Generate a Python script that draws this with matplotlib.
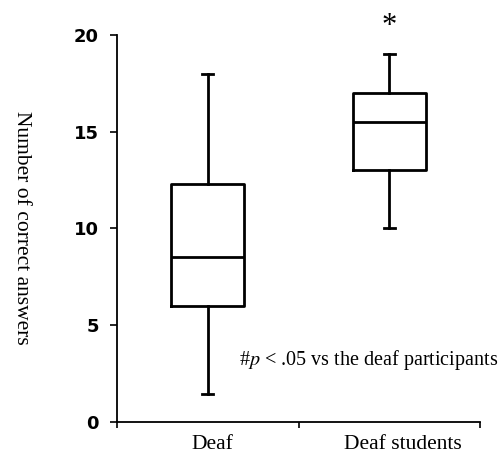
import matplotlib
matplotlib.use("Agg")
import matplotlib.pyplot as plt

plt.rcParams["mathtext.fontset"] = "stix"

categories = ["Deaf", "Deaf students"]
whisker_low = [1.4, 10.0]
q1 = [6.0, 13.0]
medians = [8.5, 15.5]
q3 = [12.3, 17.0]
whisker_high = [18.0, 19.0]
yticks = [0, 5, 10, 15, 20]

fig = plt.figure(figsize=(5.0, 4.63), dpi=100)
ax = fig.add_axes([0.234, 0.0896, 0.726, 0.8348])

stats = []
for i, c in enumerate(categories):
    stats.append(dict(label=c, whislo=whisker_low[i], q1=q1[i], med=medians[i],
                      q3=q3[i], whishi=whisker_high[i], fliers=[]))

lw = 2.0
ax.bxp(stats, positions=[0.5, 1.5], widths=0.40, capwidths=0.06,
       showfliers=False, patch_artist=False,
       boxprops=dict(color="black", linewidth=lw),
       medianprops=dict(color="black", linewidth=lw),
       whiskerprops=dict(color="black", linewidth=lw),
       capprops=dict(color="black", linewidth=lw))

ax.set_xlim(0, 2)
ax.set_ylim(0, 20)
ax.set_xticks([0, 1, 2])
ax.set_xticklabels([])
ax.set_yticks(yticks)
ax.set_yticklabels([str(t) for t in yticks], fontsize=13, fontweight="bold",
                   family="DejaVu Sans")
for s in ["top", "right"]:
    ax.spines[s].set_visible(False)
ax.spines["left"].set_linewidth(1.3)
ax.spines["bottom"].set_linewidth(1.3)
ax.tick_params(axis="y", direction="out", length=5, width=1.2, pad=8)
ax.tick_params(axis="x", direction="out", length=4, width=1.2)

ax.set_ylabel("Number of correct answers", family="Liberation Serif", fontsize=15.5,
              rotation=270, va="center")
ax.yaxis.set_label_coords(-0.262, 0.5)

label_x = [0.523, 1.576]
for x, c in zip(label_x, categories):
    ax.text(x, -1.2, c, ha="center", va="center", family="Liberation Serif",
            fontsize=15.5, clip_on=False)

ax.text(1.5, 20.45, "*", ha="center", va="center", family="Liberation Serif",
        fontsize=22, clip_on=False)
ax.text(2.1, 3.2, r"#$\it{p}$ < .05 vs the deaf participants", ha="right", va="center",
        family="Liberation Serif", fontsize=14.5, clip_on=False)

fig.savefig("out.png", dpi=100)
